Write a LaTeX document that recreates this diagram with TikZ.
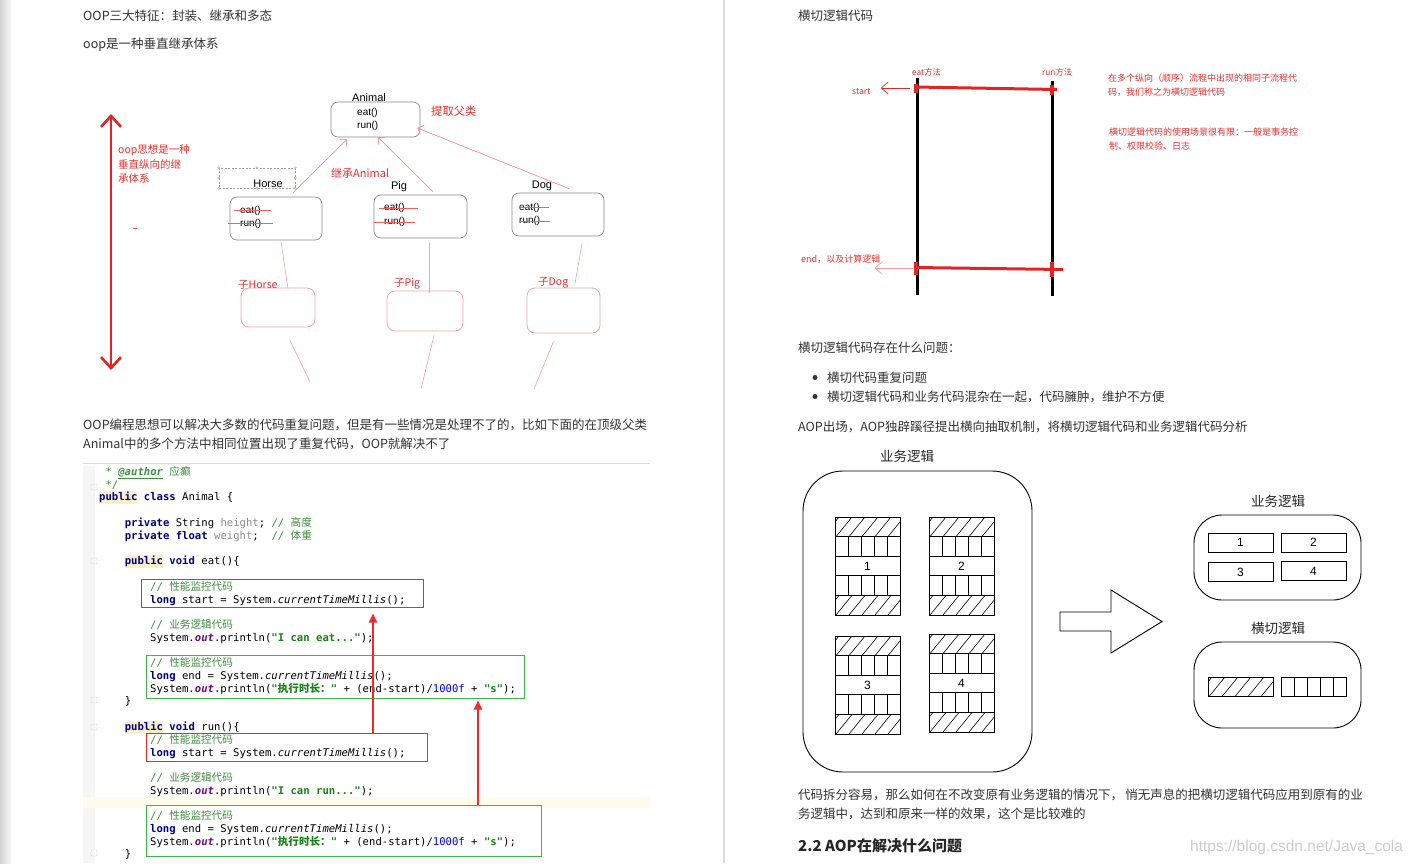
\documentclass[tikz,border=0pt]{standalone}
\usepackage{fontspec}
\setmainfont{Liberation Sans}
\newfontfamily\cjk{Noto Sans CJK SC}
\newfontfamily\mono{DejaVu Sans Mono}
\usetikzlibrary{arrows.meta,calc}

\definecolor{kwblue}{HTML}{000080}
\definecolor{cmtgreen}{HTML}{3F8F3F}
\definecolor{strgreen}{HTML}{1A801A}
\definecolor{outpurple}{HTML}{660E7A}
\definecolor{numblue}{HTML}{0000FF}
\definecolor{fieldgray}{HTML}{8C8C8C}
\definecolor{pubyel}{HTML}{F8F1C8}
\definecolor{bandyel}{HTML}{FEFCEA}
\definecolor{txt}{HTML}{333333}
\definecolor{annred}{HTML}{E8312F}
\definecolor{codered}{HTML}{EE2A2A}
\definecolor{codegreen}{HTML}{3CB84A}
\definecolor{pinkline}{HTML}{F5A3A3}
\definecolor{boxgray}{HTML}{8A8A8A}
\definecolor{lineRed}{HTML}{E32424}

\newcommand{\ckw}[1]{{\color{kwblue}\bfseries #1}}
\newcommand{\ccm}[1]{{\color{cmtgreen}#1}}
\newcommand{\cst}[1]{{\color{strgreen}\bfseries #1}}
\newcommand{\cou}[1]{{\color{outpurple}\bfseries\itshape #1}}
\newcommand{\cnm}[1]{{\color{numblue}#1}}
\newcommand{\cfd}[1]{{\color{fieldgray}#1}}
\newcommand{\czh}[1]{{\cjk #1}}
\newcommand{\cpub}{{\setlength{\fboxsep}{0pt}\colorbox{pubyel}{\strut\ckw{public}}}}

\newcommand{\hatchrect}[4]{%
  \begin{scope}
    \clip (#1,#2) rectangle (#3,#4);
    \foreach \k in {-1,0,...,6} {\draw[line width=0.6pt] ({#1+1+\k*13},#4) -- ++(16,{-(#4-#2)});}
  \end{scope}
  \draw[line width=0.8pt] (#1,#2) rectangle (#3,#4);}

\newcommand{\striperect}[4]{%
  \draw[line width=0.8pt] (#1,#2) rectangle (#3,#4);
  \foreach \k in {1,2,3,4} {\draw[line width=0.6pt] ({#1+\k*(#3-#1)/5},#2) -- ({#1+\k*(#3-#1)/5},#4);}}

\newcommand{\aopblock}[4]{%
  \pgfmathsetmacro{\bxr}{#1+65}%
  \pgfmathsetmacro{\ya}{#2+19.6}%
  \pgfmathsetmacro{\yb}{#2+39.2}%
  \pgfmathsetmacro{\yc}{#2+58.8}%
  \pgfmathsetmacro{\yd}{#2+78.4}%
  \pgfmathsetmacro{\ye}{#2+98}%
  \hatchrect{#1}{#2}{\bxr}{\ya}
  \striperect{#1}{\ya}{\bxr}{\yb}
  \node[numlbl, draw, line width=0.8pt, minimum width=65pt, minimum height=19.6pt] (#4) at ({#1+32.5},{#2+49}) {#3};
  \striperect{#1}{\yc}{\bxr}{\yd}
  \hatchrect{#1}{\yd}{\bxr}{\ye}}

\begin{document}
\begin{tikzpicture}[x=1pt,y=-1pt,
  sbody/.style={anchor=base west, inner sep=0pt, text=txt, font=\cjk\fontsize{12.5}{15}\selectfont},
  sann/.style={anchor=west, inner sep=0pt, text=annred, font=\cjk\fontsize{9}{11}\selectfont},
  sredlbl/.style={anchor=west, inner sep=0pt, text=annred, font=\cjk\fontsize{10.5}{13}\selectfont},
  scls/.style={inner sep=0pt, font=\fontsize{11}{13}\selectfont},
  smeth/.style={inner sep=0pt, anchor=west, font=\fontsize{10}{12}\selectfont},
  classbox/.style={draw=boxgray, line width=0.7pt, rounded corners=7pt, inner sep=0pt},
  subbox/.style={draw=pinkline, line width=0.8pt, rounded corners=8pt, inner sep=0pt},
  pinkarrow/.style={draw=red!55, line width=0.5pt, -{Straight Barb[length=5pt,width=10pt]}},
  pinkln/.style={draw=pinkline, line width=0.6pt},
  strikeln/.style={draw=red!65, line width=0.5pt},
  codeln/.style={anchor=base west, inner sep=0pt, font=\mono\fontsize{10.6}{12}\selectfont},
  codearrow/.style={draw=codered, line width=2pt, -{Triangle[length=9pt,width=8pt]}},
  numlbl/.style={inner sep=0pt, font=\fontsize{12}{14}\selectfont},
  dlabel/.style={inner sep=0pt, text=black!85, font=\cjk\fontsize{13.5}{16}\selectfont},
  roundbox/.style={draw, line width=0.9pt, inner sep=0pt},
  redthick/.style={draw=lineRed, line width=3pt},
  blackthick/.style={draw=black, line width=3pt}
]
\useasboundingbox (0,0) rectangle (1418,863);
\fill[white] (0,0) rectangle (1418,863);
\shade[left color=gray!35, right color=gray!6] (0,0) rectangle (11,863);
\fill[gray!28] (722.5,0) rectangle (725,863);

% ---------------- left page ----------------
\node[sbody] (t1) at (83,20) {OOP三大特征：封装、继承和多态};
\node[sbody] (t2) at (83,48) {oop是一种垂直继承体系};

% big red double arrow
\coordinate (vtop) at (111,114);
\coordinate (vbot) at (111,370);
\draw[draw=lineRed, line width=2.6pt, {Straight Barb[length=11pt,width=20pt]}-{Straight Barb[length=11pt,width=20pt]}] (vtop) -- (vbot);
\node[sredlbl] (oopa) at (118,150) {oop思想是一种};
\node[sredlbl] (oopb) at (118,164) {垂直纵向的继};
\node[sredlbl] (oopc) at (118,179) {承体系};
\draw[red!70, line width=0.6pt] (133,228) -- (137,228);

% Animal
\node[classbox, minimum width=89pt, minimum height=35pt] (animal) at (375.5,119.5) {};
\node[scls] (animalname) at (369,98) {Animal};
\node[smeth] (animaleat) at (357,113) {eat()};
\node[smeth] (animalrun) at (357,126) {run()};
\node[sredlbl, font=\cjk\fontsize{11.3}{13}\selectfont] (tiqu) at (431,111) {提取父类};
\node[sredlbl, font=\cjk\fontsize{11}{13}\selectfont] (jicheng) at (331,173) {继承Animal};

% selection box round Horse
\node[draw=gray!75, dash pattern=on 2pt off 1.5pt, line width=0.5pt, minimum width=76pt, minimum height=20pt, inner sep=0pt] (selbox) at (257,178) {};
\foreach \p in {north west,north,north east,west,east,south west,south,south east}
  \draw[gray!75, fill=white, line width=0.4pt] (selbox.\p) circle (1.2);

% Horse
\node[scls] (horsename) at (268,184) {Horse};
\node[classbox, minimum width=92pt, minimum height=43pt] (horse) at (276,218.5) {};
\node[smeth] (horseeat) at (240,211) {eat()};
\node[smeth] (horserun) at (240,224) {run()};
\draw[strikeln] (234,210.5) -- (271,210.5);
\draw[strikeln] (228,223.5) -- (273,223.5);

% Pig
\node[scls] (pigname) at (399,187) {Pig};
\node[classbox, minimum width=93pt, minimum height=43pt] (pig) at (420.5,216.5) {};
\node[smeth] (pigeat) at (384,208) {eat()};
\node[smeth] (pigrun) at (384,222) {run()};
\draw[strikeln] (379,208) -- (418,208);
\draw[strikeln] (374,222) -- (415,222);

% Dog
\node[scls] (dogname) at (542,186) {Dog};
\node[classbox, minimum width=92pt, minimum height=43pt] (dog) at (558,214.5) {};
\node[smeth] (dogeat) at (519,208) {eat()};
\node[smeth] (dogrun) at (519,221) {run()};
\draw[strikeln] (519,207) -- (549,207);
\draw[strikeln] (519,221) -- (550,221);

% inheritance arrows
\draw[pinkarrow] ($(horse.north)+(17,-4)$) -- ($(animal.south)+(-28.5,2)$);
\draw[pinkarrow] ($(pig.north)+(12.5,-3)$) -- ($(animal.south)+(2.5,0)$);
\draw[pinkarrow] ($(dog.north)+(11,-4)$) -- ($(animal.east)+(-3,8.5)$);

% sub classes
\node[subbox, minimum width=74pt, minimum height=39pt] (subhorse) at (278,307.5) {};
\node[subbox, minimum width=76pt, minimum height=40pt] (subpig) at (425,311) {};
\node[subbox, minimum width=73pt, minimum height=45pt] (subdog) at (563.5,310.5) {};
\node[sredlbl] (subhorselbl) at (238,285) {子Horse};
\node[sredlbl] (subpiglbl) at (394,284) {子Pig};
\node[sredlbl] (subdoglbl) at (538,283) {子Dog};
\draw[pinkln] ($(horse.south)+(5,1)$) -- ($(subhorse.north)+(10,1)$);
\draw[pinkln] ($(pig.south)+(8.5,5)$) -- ($(subpig.north)+(4,2)$);
\draw[pinkln] ($(dog.south)+(24,7)$) -- ($(subdog.north)+(11.5,-4)$);
\coordinate (hend) at (310,382);
\coordinate (pend) at (421,389);
\coordinate (dend) at (534,389);
\draw[pinkln] ($(subhorse.south)+(12,13)$) -- (hend);
\draw[pinkln] ($(subpig.south)+(9,4)$) -- (pend);
\draw[pinkln] ($(subdog.south)+(-10,8)$) -- (dend);

% paragraph
\node[sbody] (p1) at (83,429) {OOP编程思想可以解决大多数的代码重复问题，但是有一些情况是处理不了的，比如下面的在顶级父类};
\node[sbody] (p2) at (83,448) {Animal中的多个方法中相同位置出现了重复代码，OOP就解决不了};

% code area
\draw[gray!30, line width=0.6pt] (83,463) -- (650,463);
\fill[gray!7] (83,466) rectangle (95,863);
\fill[bandyel] (83,797) rectangle (650,808);
\foreach \fy in {487,561,700,727,853}
  \draw[gray!35, line width=0.4pt, rounded corners=1pt] (91,\fy-3) rectangle (97,\fy+3);

\node[codeln] (c1) at (105.4,475) {\ccm{* \textbf{\textit{\underline{@author}}} \czh{应癫}}};
\node[codeln] (c2) at (105.4,488) {\ccm{*/}};
\node[codeln] (c3) at (99,500) {\cpub\ \ckw{class} Animal \{};
\node[codeln] (c4) at (124.6,526) {\ckw{private} String \cfd{height}; \ccm{// \czh{高度}}};
\node[codeln] (c5) at (124.6,539) {\ckw{private} \ckw{float} \cfd{weight};~~\ccm{// \czh{体重}}};
\node[codeln] (c6) at (124.6,564) {\cpub\ \ckw{void} eat()\{};
\node[codeln] (c7) at (150,590) {\ccm{// \czh{性能监控代码}}};
\node[codeln] (c8) at (150,603) {\ckw{long} start = System.\textit{currentTimeMillis}();};
\node[codeln] (c9) at (150,628) {\ccm{// \czh{业务逻辑代码}}};
\node[codeln] (c10) at (150,641) {System.\cou{out}.println(\cst{"I can eat..."});};
\node[codeln] (c11) at (150,666) {\ccm{// \czh{性能监控代码}}};
\node[codeln] (c12) at (150,679) {\ckw{long} end = System.\textit{currentTimeMillis}();};
\node[codeln] (c13) at (150,692) {System.\cou{out}.println(\cst{"\czh{执行时长：}"} + (end-start)/\cnm{1000f} + \cst{"s"});};
\node[codeln] (c14) at (124.6,704) {\}};
\node[codeln] (c15) at (124.6,730) {\cpub\ \ckw{void} run()\{};
\node[codeln] (c16) at (150,743) {\ccm{// \czh{性能监控代码}}};
\node[codeln] (c17) at (150,756) {\ckw{long} start = System.\textit{currentTimeMillis}();};
\node[codeln] (c18) at (150,781) {\ccm{// \czh{业务逻辑代码}}};
\node[codeln] (c19) at (150,794) {System.\cou{out}.println(\cst{"I can run..."});};
\node[codeln] (c20) at (150,819) {\ccm{// \czh{性能监控代码}}};
\node[codeln] (c21) at (150,832) {\ckw{long} end = System.\textit{currentTimeMillis}();};
\node[codeln] (c22) at (150,845) {System.\cou{out}.println(\cst{"\czh{执行时长：}"} + (end-start)/\cnm{1000f} + \cst{"s"});};
\node[codeln] (c23) at (124.6,857) {\}};

\node[draw=codered, line width=1pt, minimum width=282pt, minimum height=28pt, inner sep=0pt] (eatred) at (282,593) {};
\node[draw=codegreen, line width=1pt, minimum width=378pt, minimum height=43pt, inner sep=0pt] (eatgreen) at (335,676.5) {};
\node[draw=codered, line width=1pt, minimum width=281pt, minimum height=28pt, inner sep=0pt] (runred) at (286.5,747) {};
\node[draw=codegreen, line width=1pt, minimum width=395pt, minimum height=51pt, inner sep=0pt] (rungreen) at (343.5,830.5) {};
\draw[codearrow] ($(runred.north)+(86.5,0)$) -- ($(eatred.south)+(91,6)$);
\draw[codearrow] ($(rungreen.north)+(134.5,0)$) -- ($(eatgreen.south)+(143,2)$);

% ---------------- right page ----------------
\node[sbody] (r1) at (798,20) {横切逻辑代码};

\draw[blackthick] (917,78) -- (917,295);
\draw[blackthick] (1052,81) -- (1052,296);
\draw[redthick] (915,87) -- (1057,89.5);
\draw[redthick] (915,267.5) -- (1063,269.5);
\draw[draw=lineRed, line width=3.5pt] (916,84) -- (916,93);
\draw[draw=lineRed, line width=3.5pt] (1052,85) -- (1052,95);
\draw[draw=lineRed, line width=3.5pt] (916,262) -- (916,275);
\draw[draw=lineRed, line width=3.5pt] (1052,262) -- (1052,277);

\node[sann, font=\cjk\fontsize{8.3}{10}\selectfont] (eatm) at (912,72) {eat方法};
\node[sann, font=\cjk\fontsize{8.3}{10}\selectfont] (runm) at (1042,72) {run方法};
\node[sann, font=\cjk\fontsize{8.6}{10}\selectfont] (startlbl) at (852,92) {start};
\node[sann] (endlbl) at (801,259) {end，以及计算逻辑};
\coordinate (stfrom) at (910,88);
\coordinate (endfrom) at (913,268);
\draw[draw=lineRed, line width=0.7pt, -{Straight Barb[length=7pt,width=12pt]}] (stfrom) -- ($(startlbl.east)+(10,-4)$);
\draw[draw=red!40, line width=0.7pt, -{Straight Barb[length=7pt,width=12pt]}] (endfrom) -- ($(endlbl.east)+(-6,9)$);

\node[sann] (ra1) at (1108,78) {在多个纵向（顺序）流程中出现的相同子流程代};
\node[sann] (ra2) at (1108,92) {码，我们称之为横切逻辑代码};
\node[sann] (rb1) at (1109,132) {横切逻辑代码的使用场景很有限：一般是事务控};
\node[sann] (rb2) at (1109,146) {制、权限校验、日志};

\node[sbody] (r2) at (798,352) {横切逻辑代码存在什么问题：};
\fill[txt] (815,377.5) circle (2.5);
\fill[txt] (815,396.5) circle (2.5);
\node[sbody] (b1) at (827,382) {横切代码重复问题};
\node[sbody] (b2) at (827,401) {横切逻辑代码和业务代码混杂在一起，代码臃肿，维护不方便};
\node[sbody] (r3) at (798,431) {AOP出场，AOP独辟蹊径提出横向抽取机制，将横切逻辑代码和业务逻辑代码分析};

% block diagram
\node[dlabel] (bizlbl) at (907,456.5) {业务逻辑};
\node[roundbox, rounded corners=40pt, minimum width=229pt, minimum height=301pt] (bigbox) at (917.5,621.5) {};
\aopblock{835}{517}{1}{blk1}
\aopblock{929}{517}{2}{blk2}
\aopblock{835}{636}{3}{blk3}
\aopblock{929}{634}{4}{blk4}

\draw[line width=0.9pt, line join=miter] (1060,612) -- (1111,612) -- (1111,590) -- (1162,621.5) -- (1111,653) -- (1111,631) -- (1060,631) -- cycle;

\node[dlabel] (bizlbl2) at (1278,501) {业务逻辑};
\node[roundbox, rounded corners=28pt, minimum width=167pt, minimum height=85pt] (bizbox) at (1277.5,557.5) {};
\node[numlbl, draw, line width=0.8pt, minimum width=65pt, minimum height=19pt] (n1) at (1240.5,542.5) {1};
\node[numlbl, draw, line width=0.8pt, minimum width=65pt, minimum height=19pt] (n2) at (1313.5,542.5) {2};
\node[numlbl, draw, line width=0.8pt, minimum width=65pt, minimum height=19pt] (n3) at (1240.5,572) {3};
\node[numlbl, draw, line width=0.8pt, minimum width=65pt, minimum height=19pt] (n4) at (1313.5,571) {4};

\node[dlabel] (crosslbl) at (1278,628.5) {横切逻辑};
\node[roundbox, rounded corners=28pt, minimum width=167pt, minimum height=86pt] (crossbox) at (1277.5,685) {};
\hatchrect{1208}{677}{1273}{696.5}
\striperect{1281}{677}{1346}{696.5}

\node[sbody] (r4) at (798,799.5) {代码拆分容易，那么如何在不改变原有业务逻辑的情况下，\,悄无声息的把横切逻辑代码应用到原有的业};
\node[sbody] (r5) at (798,818.5) {务逻辑中，达到和原来一样的效果，这个是比较难的};
\node[sbody, font=\cjk\bfseries\fontsize{15}{18}\selectfont, text=black!85] (h22) at (798,851.5) {2.2 AOP在解决什么问题};
\node[anchor=base west, inner sep=0pt, text=gray!40, font=\fontsize{15.5}{18}\selectfont] (wm) at (1190,851) {https://blog.csdn.net/Java\_cola};
\end{tikzpicture}
\end{document}
